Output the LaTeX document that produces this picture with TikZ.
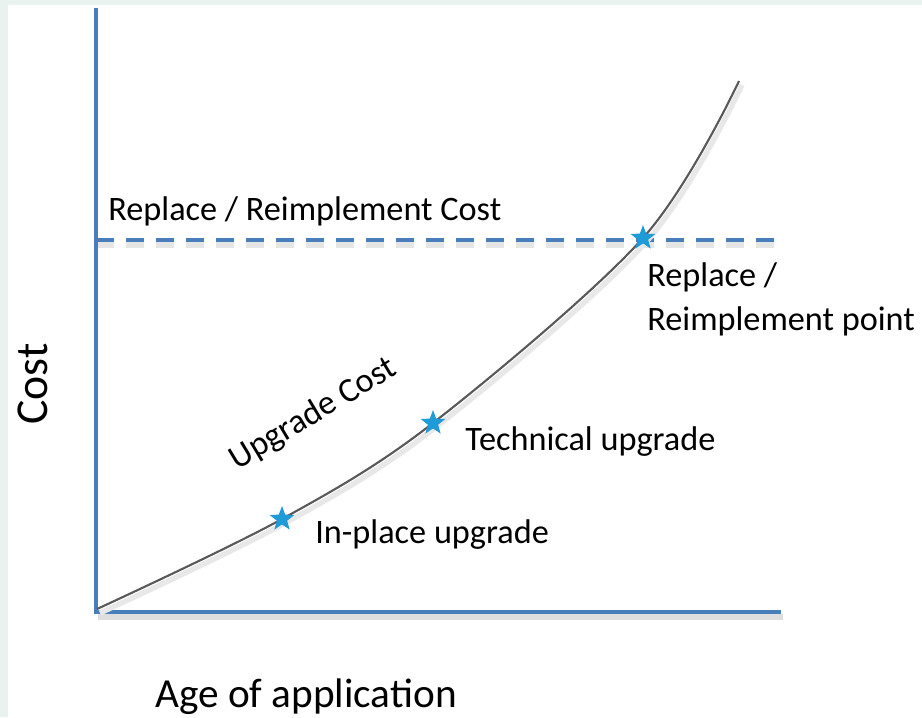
\documentclass[tikz,border=0pt]{standalone}
\usepackage{fontspec}
\setmainfont{Carlito}
\usetikzlibrary{shapes.geometric}
\definecolor{axisblue}{HTML}{4A7EBB}
\definecolor{starblue}{HTML}{1F9BD7}
\definecolor{curvegray}{HTML}{595959}
\definecolor{mint}{HTML}{EAF2EF}
\tikzset{
	axisline/.style={line width=2.3pt, color=axisblue},
	shadowline/.style={line width=3pt, color=black!13},
	costdash/.style={dash pattern=on 0.36cm off 0.24cm},
	marker/.style={star, star points=5, star point ratio=2.4, fill=starblue, inner sep=0pt, minimum size=0.52cm},
	lbl/.style={anchor=base west, inner sep=0pt, font=\fontsize{19.5}{25.5}\selectfont},
	biglbl/.style={anchor=base, inner sep=0pt, font=\fontsize{23.5}{28}\selectfont},
}

\begin{document}
\begin{tikzpicture}[x=0.02cm, y=-0.02cm]
		\fill[mint] (0,0) rectangle (922,717);
		\fill[white] (8,5) rectangle (922,717);
		\useasboundingbox (0,0) rectangle (922,717);
		% axes and cost level
		\coordinate (o) at (96,612);
		\coordinate (ytop) at (96,8);
		\coordinate (xend) at (781,612);
		\coordinate (cl) at (96,240);
		\coordinate (cr) at (781,240);
		\draw[shadowline] ([shift={(2,5)}]o)--([shift={(2,5)}]xend);
		\draw[shadowline, costdash, black!10] ([shift={(0,5)}]cl)--([shift={(0,5)}]cr);
		\draw[axisline, costdash, line width=2pt] (cl)--(cr);
		\draw[axisline] (ytop)--(o)--(xend);
		% upgrade cost curve
		\coordinate (c0) at (97,609);
		\coordinate (c1) at (282,519);
		\coordinate (c2) at (433,423);
		\coordinate (c3) at (643,238);
		\coordinate (c4) at (739,81);
		\draw[black!9, line width=3pt, shift={(3,4)}] plot[smooth, tension=0.55] coordinates {(97,609) (282,519) (433,423) (643,238) (739,81)};
		\draw[curvegray, line width=1.2pt] plot[smooth, tension=0.55] coordinates {(c0) (c1) (c2) (c3) (c4)};
		\node[marker] (inplace) at (c1) {};
		\node[marker] (technical) at (c2) {};
		\node[marker] (replace) at (c3) {};
		% labels
		\node[lbl] (costlevel) at (108,220) {Replace / Reimplement Cost};
		\node[lbl, align=left, anchor=north west] (replacept) at (647,262) {Replace /\\Reimplement point};
		\node[lbl] (techlbl) at (465,450) {Technical upgrade};
		\node[lbl] (inplacelbl) at (315,543) {In-place upgrade};
		\node[lbl, anchor=base, rotate=31] (upcost) at (318,422) {Upgrade Cost};
		\node[biglbl, rotate=90, font=\fontsize{26}{30}\selectfont] (ylbl) at (47,384) {Cost};
		\node[biglbl] (xlbl) at (306,707) {Age of application};
	\end{tikzpicture}
\end{document}
